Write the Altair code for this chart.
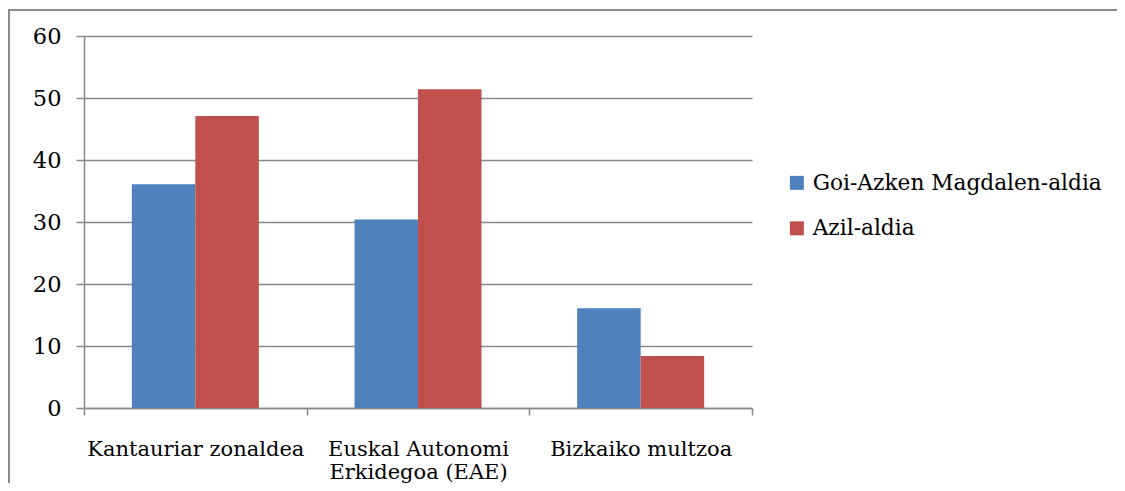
import altair as alt
import pandas as pd

categories = ["Kantauriar zonaldea", "Euskal Autonomi Erkidegoa (EAE)", "Bizkaiko multzoa"]
series = ["Goi-Azken Magdalen-aldia", "Azil-aldia"]
goi_values = [36.1, 30.4, 16.1]
azil_values = [47.1, 51.4, 8.4]
y_ticks = [0, 10, 20, 30, 40, 50, 60]
colors = ["#4F81BD", "#C0504D"]

rows = []
for c, g, a in zip(categories, goi_values, azil_values):
    rows.append({"category": c, "series": series[0], "value": g})
    rows.append({"category": c, "series": series[1], "value": a})
df = pd.DataFrame(rows)

FONT = "DejaVu Serif"
GRAY = "#888888"

label_expr = ("datum.label == 'Euskal Autonomi Erkidegoa (EAE)' ? "
              "['Euskal Autonomi', 'Erkidegoa (EAE)'] : datum.label")

bars = alt.Chart(df).mark_bar().encode(
    x=alt.X("category:N", sort=categories,
            scale=alt.Scale(paddingInner=0, paddingOuter=0),
            axis=alt.Axis(title=None, labelAngle=0, tickBand="extent", grid=False,
                          labelExpr=label_expr, labelFont=FONT, labelFontSize=21,
                          labelLineHeight=23.5, labelPadding=23, labelLimit=0,
                          labelColor="#000000", tickSize=7, tickColor=GRAY,
                          tickWidth=1.5, domainColor=GRAY, domainWidth=1.5,
                          labelOverlap=False)),
    xOffset=alt.XOffset("series:N", sort=series,
                        scale=alt.Scale(paddingInner=0, paddingOuter=0.753)),
    y=alt.Y("value:Q", scale=alt.Scale(domain=[0, 60], nice=False),
            axis=alt.Axis(title=None, values=y_ticks, labelFont=FONT,
                          labelFontSize=22.5, labelPadding=15, labelColor="#000000",
                          tickSize=8, tickColor=GRAY, tickWidth=1.5,
                          domainColor=GRAY, domainWidth=1.5,
                          gridColor=GRAY, gridWidth=1.5)),
    color=alt.Color("series:N", sort=series,
                    scale=alt.Scale(domain=series, range=colors),
                    legend=alt.Legend(title=None, orient="none", legendX=702, legendY=136,
                                      symbolType="square", symbolSize=196,
                                      symbolStrokeWidth=0, labelFont=FONT,
                                      labelFontSize=21.7, labelColor="#000000",
                                      labelOffset=5, rowPadding=22.5, padding=0,
                                      labelLimit=0)),
)

frame = alt.Chart(pd.DataFrame({"k": [0]})).mark_rect(
    filled=False, stroke="#8c8c8c", strokeWidth=2
).encode(
    x=alt.value(-75), x2=alt.value(2000), y=alt.value(-26), y2=alt.value(1000)
)

chart = alt.layer(bars, frame).properties(
    width=668, height=372,
    autosize=alt.AutoSizeParams(type="none"),
    padding={"left": 76, "top": 28, "right": 365, "bottom": 75},
).configure_view(stroke=None)

chart.save("out.html", embed_options={"renderer": "svg", "actions": False})
